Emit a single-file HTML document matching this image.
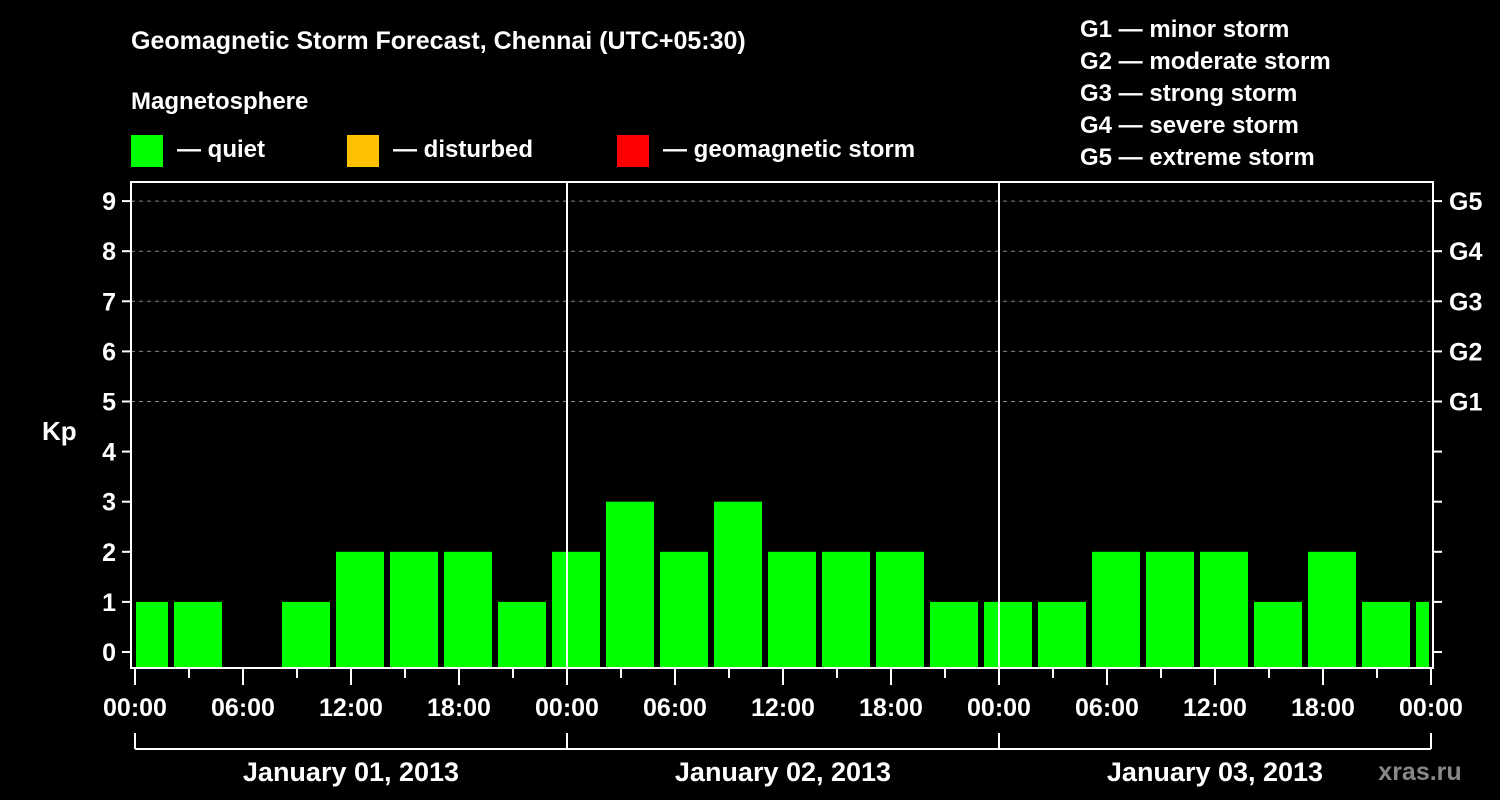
<!DOCTYPE html>
<html><head><meta charset="utf-8"><style>
body{margin:0;background:#000;}
svg{display:block;font-family:"Liberation Sans",Arial,sans-serif;font-weight:bold;}
</style></head><body>
<svg id="c" width="1500" height="800" viewBox="0 0 1500 800">
<rect width="1500" height="800" fill="#000"/>
<text x="131" y="49" fill="#fff" font-size="25">Geomagnetic Storm Forecast, Chennai (UTC+05:30)</text>
<text x="131" y="109" fill="#fff" font-size="24">Magnetosphere</text>
<g><rect x="131" y="135" width="32" height="32" fill="#00ff00"/><text x="177" y="157" fill="#fff" font-size="24">— quiet</text></g>
<g><rect x="347" y="135" width="32" height="32" fill="#ffc000"/><text x="393" y="157" fill="#fff" font-size="24">— disturbed</text></g>
<g><rect x="617" y="135" width="32" height="32" fill="#ff0000"/><text x="663" y="157" fill="#fff" font-size="24">— geomagnetic storm</text></g>
<g fill="#fff" font-size="24">
<text x="1080" y="37">G1 — minor storm</text>
<text x="1080" y="69">G2 — moderate storm</text>
<text x="1080" y="101">G3 — strong storm</text>
<text x="1080" y="133">G4 — severe storm</text>
<text x="1080" y="165">G5 — extreme storm</text>
</g>
<text x="42" y="440" fill="#fff" font-size="26">Kp</text>
<text x="1420" y="780" fill="#888" font-size="25" font-weight="normal" text-anchor="middle" style="font-weight:bold">xras.ru</text>
<defs><clipPath id="pc"><rect x="136" y="182" width="1293" height="486"/></clipPath></defs>
<g id="grid"></g>
<g id="bars" clip-path="url(#pc)"></g>
<g id="axes"></g>
</svg>
<script>
const kpValues=[1,1,0,1,2,2,2,1,2,3,2,3,2,2,2,1,1,1,2,2,2,1,2,1,1];
const binStartHours=[-1,2,5,8,11,14,17,20,23,26,29,32,35,38,41,44,47,50,53,56,59,62,65,68,71];
const yTicks=[0,1,2,3,4,5,6,7,8,9];
const gLabels=["G1","G2","G3","G4","G5"];
const gLevels=[5,6,7,8,9];
const xTickLabels=["00:00","06:00","12:00","18:00","00:00","06:00","12:00","18:00","00:00","06:00","12:00","18:00","00:00"];
const dayLabels=["January 01, 2013","January 02, 2013","January 03, 2013"];
const NS="http://www.w3.org/2000/svg";
const X0=135,PXH=18,Y0=652,PXK=50.1,L=131,R=1433,T=182,B=668;
const xs=h=>X0+h*PXH, ys=v=>Y0-v*PXK;
function mk(tag,attrs,parent,txt){const e=document.createElementNS(NS,tag);for(const k in attrs)e.setAttribute(k,attrs[k]);if(txt!=null)e.textContent=txt;parent.appendChild(e);return e;}
const grid=document.getElementById('grid'),bars=document.getElementById('bars'),ax=document.getElementById('axes');
gLevels.forEach((lv,i)=>{
 const l=mk('line',{x1:L,x2:R,y1:ys(lv),y2:ys(lv),stroke:'#888','stroke-width':1,'stroke-dasharray':'4,4'},grid);
 
 
 const t=mk('text',{x:1449,y:ys(lv)+9,fill:'#fff','font-size':25},ax,gLabels[i]);
 
 
});
kpValues.forEach((v,i)=>{
 if(v<=0)return;
 const x=xs(binStartHours[i])+3, y=ys(v);
 const r=mk('rect',{x:x,y:y,width:PXH*3-6,height:B-y,fill:'#00ff00'},bars);
 
 
});
const frame=mk('rect',{x:L,y:T,width:R-L,height:B-T,fill:'none',stroke:'#fff','stroke-width':2},ax);


[24,48].forEach(h=>{
 const l=mk('line',{x1:xs(h),x2:xs(h),y1:T,y2:B,stroke:'#fff','stroke-width':2},ax);
 
 
});
yTicks.forEach(v=>{
 mk('line',{x1:L-9,x2:L,y1:ys(v),y2:ys(v),stroke:'#fff','stroke-width':2},ax);
 mk('line',{x1:R,x2:R+9,y1:ys(v),y2:ys(v),stroke:'#fff','stroke-width':2},ax);
 const t=mk('text',{x:116,y:ys(v)+9,fill:'#fff','font-size':25,'text-anchor':'end'},ax,String(v));
 
 
});
for(let h=0;h<=72;h+=3){
 const major=h%6===0;
 mk('line',{x1:xs(h),x2:xs(h),y1:B,y2:major?685:678,stroke:'#fff','stroke-width':2},ax);
}
xTickLabels.forEach((s,i)=>{
 const t=mk('text',{x:xs(i*6),y:716,fill:'#fff','font-size':25,'text-anchor':'middle'},ax,s);
 
 
});
const br=mk('line',{x1:xs(0),x2:xs(72),y1:749,y2:749,stroke:'#fff','stroke-width':2},ax);


[0,24,48,72].forEach(h=>mk('line',{x1:xs(h),x2:xs(h),y1:733,y2:749,stroke:'#fff','stroke-width':2},ax));
dayLabels.forEach((s,i)=>{
 const t=mk('text',{x:xs(i*24+12),y:781,fill:'#fff','font-size':27,'text-anchor':'middle'},ax,s);
 
 
});
</script>
</body></html>
